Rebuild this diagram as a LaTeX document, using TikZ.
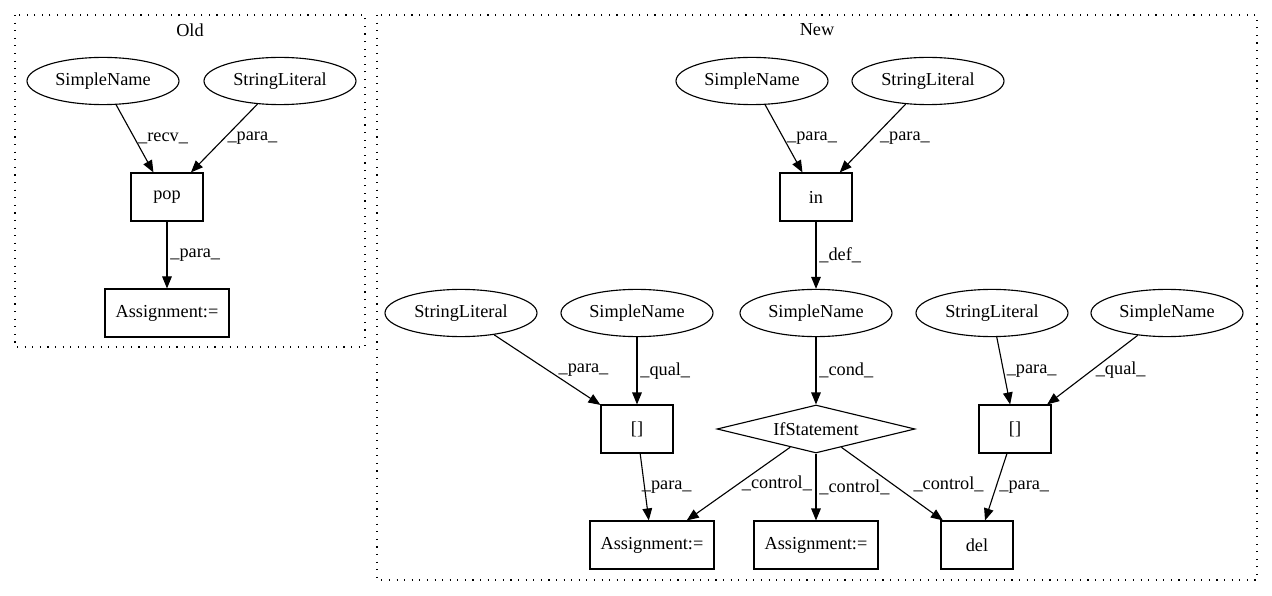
\documentclass[tikz,border=0pt]{standalone}
\usepackage{fontspec}
\setmainfont{Liberation Serif}
\usepackage{tikz}
\usetikzlibrary{arrows.meta,shapes,positioning}
\tikzstyle{arrow}=[draw,-{Triangle[length=0.3cm,width=0.24cm]},line width=0.8pt]
\tikzstyle{tellipse}=[ellipse,draw,line width=0.8pt,minimum width=3.8cm,minimum height=1.18cm,inner sep=0pt]
\tikzstyle{tbox}=[rectangle,draw,line width=0.8pt,minimum width=1.8cm,minimum height=1.2cm]
\tikzstyle{abox}=[tbox,minimum width=3.1cm]
\tikzstyle{tdiamond}=[diamond,draw,line width=0.8pt,aspect=4,inner sep=0pt,minimum width=4.95cm,minimum height=1.2cm]
\tikzstyle{lbl}=[right,inner sep=2pt]
\tikzstyle{cluster}=[draw,line width=0.8pt,dash pattern=on 0.8pt off 4.6pt]

\begin{document}
\begin{tikzpicture}[node distance=2.9cm,font=\fontsize{13}{15}\selectfont]
\useasboundingbox (0,0) rectangle (31.8,-14.9);
% Old
\draw[cluster] (0.375,-0.375) rectangle (9.125,-8.675);
\node (oldlbl) at (4.75,-0.75) {Old};
\node [tellipse] (sn0) at (2.575,-2.025) {SimpleName};
\node [tellipse] (sl0) at (7.0,-2.025) {StringLiteral};
\node [tbox] (pop) at (4.175,-4.925) {pop};
\node [abox,below of=pop] (asg0) {Assignment:=};

\draw[arrow] (sn0) -- node[lbl] {\_recv\_} (pop);
\draw[arrow] (sl0) -- node[lbl] {\_para\_} (pop);
\draw[arrow] (pop) -- node[lbl] {\_para\_} (asg0);

% New
\draw[cluster] (9.425,-0.375) rectangle (31.425,-14.5);
\node (newlbl) at (20.425,-0.75) {New};
\node [tellipse] (sn1) at (18.8,-2.025) {SimpleName};
\node [tellipse] (sl1) at (23.2,-2.025) {StringLiteral};
\node [tbox] (isin) at (20.4,-4.925) {in};
\node [tellipse,below of=isin] (sn2) {SimpleName};
\node [tdiamond,below of=sn2] (ifs) {IfStatement};
\node [abox,below of=ifs] (asg2) {Assignment:=};

\node [tellipse,left of=sn2,node distance=4.475cm] (sn3) {SimpleName};
\node [tellipse,left of=sn3,node distance=4.4cm] (sl2) {StringLiteral};
\node [tbox,below of=sn3] (idx1) {[]};
\node [abox,below of=idx1,xshift=0.375cm] (asg1) {Assignment:=};

\node [tellipse,right of=sn2,node distance=4.4cm] (sl3) {StringLiteral};
\node [tellipse,right of=sl3,node distance=4.375cm] (sn4) {SimpleName};
\node [tbox,below of=sl3,xshift=0.575cm] (idx2) {[]};
\node [tbox,right of=asg2,node distance=4.025cm] (del) {del};

\draw[arrow] (sn1) -- node[lbl] {\_para\_} (isin);
\draw[arrow] (sl1) -- node[lbl,xshift=0.1cm] {\_para\_} (isin);
\draw[arrow] (isin) -- node[lbl] {\_def\_} (sn2);
\draw[arrow] (sn2) -- node[lbl] {\_cond\_} (ifs);
\draw[arrow] (sl2) -- node[lbl,xshift=0.2cm] {\_para\_} (idx1);
\draw[arrow] (sn3) -- node[lbl] {\_qual\_} (idx1);
\draw[arrow] (idx1) -- node[lbl,xshift=-0.15cm] {\_para\_} (asg1);
\draw[arrow] (ifs) -- node[lbl] {\_control\_} (asg1);
\draw[arrow] (ifs) -- node[lbl] {\_control\_} (asg2);
\draw[arrow] (ifs) -- node[lbl,xshift=0.45cm] {\_control\_} (del);
\draw[arrow] (sl3) -- node[lbl] {\_para\_} (idx2);
\draw[arrow] (sn4) -- node[lbl] {\_qual\_} (idx2);
\draw[arrow] (idx2) -- node[lbl] {\_para\_} (del);
\end{tikzpicture}
\end{document}
